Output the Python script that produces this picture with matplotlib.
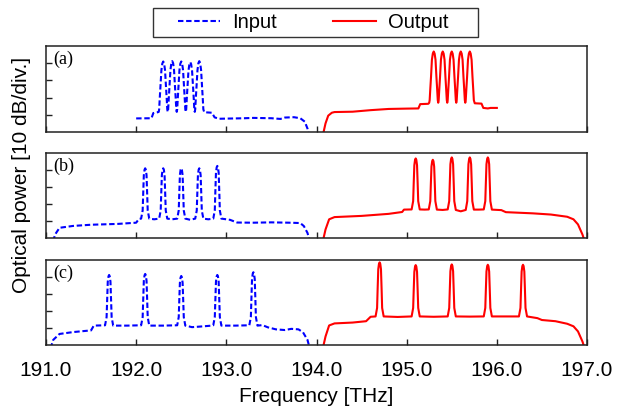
import matplotlib
matplotlib.use("Agg")
import matplotlib.pyplot as plt
from matplotlib.patches import Rectangle

# ---------------- data: (frequency [THz], power [dB]), 10 dB/div ----------------
a_input = [(192.00, -52.1), (192.17, -52.0), (192.19, -49.0), (192.24, -48.5),
    (192.25, -48.3), (192.255, -46.8), (192.262, -40), (192.27, -33), (192.28, -24), (192.29, -20.2),
    (192.30, -19.0), (192.31, -20.2), (192.32, -24), (192.33, -33), (192.338, -40), (192.345, -46.8), (192.35, -48.3),
    (192.355, -46.8), (192.362, -40), (192.37, -33), (192.38, -24), (192.39, -20.0),
    (192.40, -18.8), (192.41, -20.0), (192.42, -24), (192.43, -33), (192.438, -40), (192.445, -46.8), (192.45, -48.3),
    (192.455, -46.8), (192.462, -40), (192.47, -33), (192.48, -24), (192.49, -20.2),
    (192.50, -19.0), (192.51, -20.2), (192.52, -24), (192.53, -33), (192.538, -40), (192.545, -46.8), (192.55, -48.3),
    (192.555, -46.8), (192.562, -40), (192.57, -33), (192.58, -24.4), (192.59, -20.6),
    (192.60, -19.4), (192.61, -20.6), (192.62, -24.4), (192.63, -33), (192.638, -40), (192.645, -46.8), (192.65, -48.3),
    (192.655, -46.8), (192.662, -40), (192.67, -33), (192.68, -24), (192.69, -20.0),
    (192.70, -18.8), (192.71, -20.0), (192.72, -24), (192.73, -33), (192.738, -40), (192.745, -46.8), (192.755, -48.5),
    (192.84, -48.8), (192.87, -51.5), (192.92, -52.3), (193.20, -52.0), (193.30, -51.8), (193.50, -52.0),
    (193.60, -52.4), (193.65, -51.6), (193.75, -51.4), (193.82, -52.0), (193.87, -54.0), (193.90, -58.0), (193.93, -65.0)]

a_output = [(194.07, -62.0), (194.10, -55.0), (194.13, -50.5), (194.17, -48.8), (194.20, -48.4), (194.40, -48.2),
    (194.60, -47.3), (194.80, -46.6), (195.00, -46.4), (195.13, -46.3), (195.15, -43.8), (195.24, -43.6),
    (195.25, -43.0), (195.255, -41.5), (195.262, -35), (195.27, -28), (195.28, -18), (195.29, -14.4),
    (195.30, -13.2), (195.31, -14.4), (195.32, -18), (195.33, -28), (195.338, -35), (195.345, -41.5), (195.35, -43.0),
    (195.355, -41.5), (195.362, -35), (195.37, -28), (195.38, -18), (195.39, -14.4),
    (195.40, -13.2), (195.41, -14.4), (195.42, -18), (195.43, -28), (195.438, -35), (195.445, -41.5), (195.45, -43.0),
    (195.455, -41.5), (195.462, -35), (195.47, -28), (195.48, -18), (195.49, -14.4),
    (195.50, -13.2), (195.51, -14.4), (195.52, -18), (195.53, -28), (195.538, -35), (195.545, -41.5), (195.55, -43.0),
    (195.555, -41.5), (195.562, -35), (195.57, -28), (195.58, -18), (195.59, -14.4),
    (195.60, -13.2), (195.61, -14.4), (195.62, -18), (195.63, -28), (195.638, -35), (195.645, -41.5), (195.65, -43.0),
    (195.655, -41.5), (195.662, -35), (195.67, -28), (195.68, -18), (195.69, -14.4),
    (195.70, -13.2), (195.71, -14.4), (195.72, -18), (195.73, -28), (195.738, -35), (195.745, -41.5), (195.755, -43.3),
    (195.83, -43.5), (195.85, -46.0), (195.90, -46.3), (195.93, -46.0), (196.00, -46.0)]

b_input = [(191.08, -62.0), (191.10, -58.0), (191.15, -54.0), (191.30, -52.9), (191.50, -52.2), (191.80, -51.7),
    (192.00, -51.0), (192.03, -48.8),
    (192.055, -48.6), (192.072, -43.8), (192.078, -34), (192.085, -23), (192.093, -19.8), (192.10, -19.0),
    (192.107, -19.8), (192.115, -23), (192.122, -34), (192.128, -43.8), (192.145, -48.6),
    (192.20, -49.0),
    (192.255, -48.6), (192.272, -43.8), (192.278, -34), (192.285, -23), (192.293, -19.8), (192.30, -19.0),
    (192.307, -19.8), (192.315, -23), (192.322, -34), (192.328, -43.8), (192.345, -48.6),
    (192.40, -49.0),
    (192.455, -48.6), (192.472, -43.8), (192.478, -34), (192.485, -23), (192.493, -19.8), (192.50, -19.0),
    (192.507, -19.8), (192.515, -23), (192.522, -34), (192.528, -43.8), (192.545, -48.6),
    (192.60, -49.3),
    (192.655, -48.6), (192.672, -43.8), (192.678, -34), (192.685, -23), (192.693, -19.8), (192.70, -19.0),
    (192.707, -19.8), (192.715, -23), (192.722, -34), (192.728, -43.8), (192.745, -48.6),
    (192.80, -49.0),
    (192.855, -48.6), (192.872, -43.8), (192.878, -33), (192.885, -21.6), (192.893, -18.4), (192.90, -17.6),
    (192.907, -18.4), (192.915, -21.6), (192.922, -33), (192.928, -43.8), (192.945, -48.6),
    (193.04, -49.3), (193.12, -50.9), (193.30, -51.0), (193.50, -50.8), (193.70, -51.0), (193.82, -51.2),
    (193.86, -53.0), (193.90, -57.0), (193.93, -63.0)]

b_output = [(194.07, -62.0), (194.10, -55.0), (194.14, -49.0), (194.20, -47.7), (194.50, -47.0), (194.80, -45.8),
    (194.95, -44.7), (194.97, -43.3),
    (195.055, -43.2), (195.072, -38.3), (195.078, -28), (195.085, -17.2), (195.093, -14.0), (195.10, -13.2),
    (195.107, -14.0), (195.115, -17.2), (195.122, -28), (195.128, -38.3), (195.145, -43.2),
    (195.20, -43.3),
    (195.245, -43.2), (195.262, -38.3), (195.268, -28.5), (195.275, -18.0), (195.283, -14.8), (195.29, -14.0),
    (195.297, -14.8), (195.305, -18.0), (195.312, -28.5), (195.318, -38.3), (195.335, -43.3),
    (195.40, -43.5),
    (195.455, -43.2), (195.472, -38.3), (195.478, -28), (195.485, -16.6), (195.493, -13.4), (195.50, -12.6),
    (195.507, -13.4), (195.515, -16.6), (195.522, -28), (195.528, -38.3), (195.545, -43.5),
    (195.60, -44.3),
    (195.655, -43.5), (195.672, -38.3), (195.678, -28), (195.685, -16.6), (195.693, -13.4), (195.70, -12.6),
    (195.707, -13.4), (195.715, -16.6), (195.722, -28), (195.728, -38.3), (195.745, -43.3),
    (195.80, -43.3),
    (195.855, -43.2), (195.872, -38.3), (195.878, -28), (195.885, -16.6), (195.893, -13.4), (195.90, -12.6),
    (195.907, -13.4), (195.915, -16.6), (195.922, -28), (195.928, -38.3), (195.945, -43.3),
    (196.05, -43.6), (196.10, -44.8), (196.40, -45.5), (196.60, -46.2), (196.78, -47.5), (196.85, -49.0),
    (196.90, -52.0), (196.95, -58.0), (196.98, -63.0)]

c_input = [(191.05, -62.0), (191.08, -57.0), (191.15, -53.5), (191.30, -52.4), (191.50, -51.4), (191.53, -48.6),
    (191.655, -48.4), (191.672, -43.6), (191.678, -34), (191.685, -22.8), (191.693, -19.6), (191.70, -18.8),
    (191.707, -19.6), (191.715, -22.8), (191.722, -34), (191.728, -43.6), (191.745, -48.6),
    (191.90, -48.6),
    (192.055, -48.4), (192.072, -43.6), (192.078, -33.5), (192.085, -22.2), (192.093, -19.0), (192.10, -18.2),
    (192.107, -19.0), (192.115, -22.2), (192.122, -33.5), (192.128, -43.6), (192.145, -48.6),
    (192.30, -48.6),
    (192.455, -48.4), (192.472, -43.6), (192.478, -34), (192.485, -23.4), (192.493, -20.2), (192.50, -19.4),
    (192.507, -20.2), (192.515, -23.4), (192.522, -34), (192.528, -43.6), (192.545, -48.6),
    (192.62, -49.5), (192.70, -49.2), (192.84, -48.6),
    (192.855, -48.4), (192.872, -43.6), (192.878, -34), (192.885, -22.8), (192.893, -19.6), (192.90, -18.8),
    (192.907, -19.6), (192.915, -22.8), (192.922, -34), (192.928, -43.6), (192.945, -48.6),
    (193.10, -48.6),
    (193.255, -48.4), (193.272, -43.6), (193.278, -33), (193.285, -21.2), (193.293, -18.0), (193.30, -17.2),
    (193.307, -18.0), (193.315, -21.2), (193.322, -33), (193.328, -43.6), (193.345, -48.6),
    (193.40, -48.3), (193.46, -49.6), (193.55, -50.8), (193.65, -51.2), (193.72, -50.5), (193.80, -50.8),
    (193.85, -52.5), (193.90, -57.0), (193.93, -63.0)]

c_output = [(194.07, -62.0), (194.10, -55.0), (194.14, -48.5), (194.20, -47.3), (194.40, -46.8), (194.55, -46.0),
    (194.60, -43.4),
    (194.655, -43.2), (194.672, -38.2), (194.678, -27), (194.685, -15.4), (194.693, -12.2), (194.70, -11.4),
    (194.707, -12.2), (194.715, -15.4), (194.722, -27), (194.728, -38.2), (194.745, -43.2),
    (194.90, -43.5),
    (195.055, -43.2), (195.072, -38.2), (195.078, -28), (195.085, -17.0), (195.093, -13.8), (195.10, -13.0),
    (195.107, -13.8), (195.115, -17.0), (195.122, -28), (195.128, -38.2), (195.145, -43.2),
    (195.30, -43.4),
    (195.455, -43.2), (195.472, -38.2), (195.478, -28), (195.485, -16.6), (195.493, -13.4), (195.50, -12.6),
    (195.507, -13.4), (195.515, -16.6), (195.522, -28), (195.528, -38.2), (195.545, -43.2),
    (195.70, -43.3),
    (195.855, -43.2), (195.872, -38.2), (195.878, -28), (195.885, -16.8), (195.893, -13.6), (195.90, -12.8),
    (195.907, -13.6), (195.915, -16.8), (195.922, -28), (195.928, -38.2), (195.945, -43.2),
    (196.10, -43.2),
    (196.245, -43.2), (196.262, -38.2), (196.268, -28), (196.275, -16.8), (196.283, -13.6), (196.29, -12.8),
    (196.297, -13.6), (196.305, -16.8), (196.312, -28), (196.318, -38.2), (196.335, -43.2),
    (196.45, -44.2), (196.50, -45.3), (196.65, -46.0), (196.78, -47.5), (196.85, -49.0), (196.90, -52.0),
    (196.95, -58.0), (196.98, -63.0)]

panel_labels = ["(a)", "(b)", "(c)"]
x_ticks = [191.0, 192.0, 193.0, 194.0, 195.0, 196.0, 197.0]
x_ticklabels = ["191.0", "192.0", "193.0", "194.0", "195.0", "196.0", "197.0"]
y_ticks = [-50, -40, -30, -20]
y_range = (-60, -10)
series_labels = ["Input", "Output"]

inputs = [a_input, b_input, c_input]
outputs = [a_output, b_output, c_output]

# ---------------- figure ----------------
plt.rcParams['font.family'] = ['Liberation Sans', 'DejaVu Sans']
fig = plt.figure(figsize=(6.25, 4.07), dpi=100)

W, H = 625.0, 407.0
left_px, right_px = 46, 587
panels_px = [(46, 132), (153, 238), (260, 345)]
blue = '#0000ff'
red = '#ff0000'

handles = None
for i, (top, bot) in enumerate(panels_px):
    ax = fig.add_axes([left_px / W, 1 - bot / H, (right_px - left_px) / W, (bot - top) / H])
    fin, pin = zip(*inputs[i])
    fout, pout = zip(*outputs[i])
    l1, = ax.plot(fin, pin, color=blue, lw=1.5, linestyle=(0, (2.6, 1.3)))
    l2, = ax.plot(fout, pout, color=red, lw=1.5)
    if handles is None:
        handles = [l1, l2]
    ax.set_xlim(x_ticks[0], x_ticks[-1])
    ax.set_ylim(*y_range)
    ax.set_xticks(x_ticks)
    ax.set_yticks(y_ticks)
    ax.set_yticklabels([])
    if i < 2:
        ax.set_xticklabels([])
    else:
        ax.set_xticklabels(x_ticklabels)
        ax.set_xlabel("Frequency [THz]", fontsize=15, labelpad=5)
    ax.tick_params(direction='in', length=4, width=1, labelsize=15, pad=11.5,
                   top=False, right=False, color='#222222')
    for s in ax.spines.values():
        s.set_linewidth(1.1)
        s.set_color('#222222')
    ax.text(7 / (right_px - left_px), 1 - 5 / (bot - top), panel_labels[i],
            transform=ax.transAxes, ha='left', va='top',
            fontsize=13, family=['Liberation Serif', 'DejaVu Serif'])

fig.text(22 / W, 1 - 175 / H, "Optical power [10 dB/div.]", rotation=90,
         ha='center', va='center', fontsize=15)

leg = fig.legend(handles, series_labels, loc='center',
                 bbox_to_anchor=(313 / W, 1 - 22.5 / H), ncol=2, fontsize=14.5,
                 frameon=False, handlelength=2.1,
                 handletextpad=0.6, columnspacing=2.8, borderpad=0.3,
                 borderaxespad=0)
fig.patches.append(Rectangle((153 / W, 1 - 37 / H), 325 / W, 29 / H,
                             transform=fig.transFigure, fill=False,
                             edgecolor='#333333', linewidth=1.0))

fig.savefig("out.png", dpi=100)
